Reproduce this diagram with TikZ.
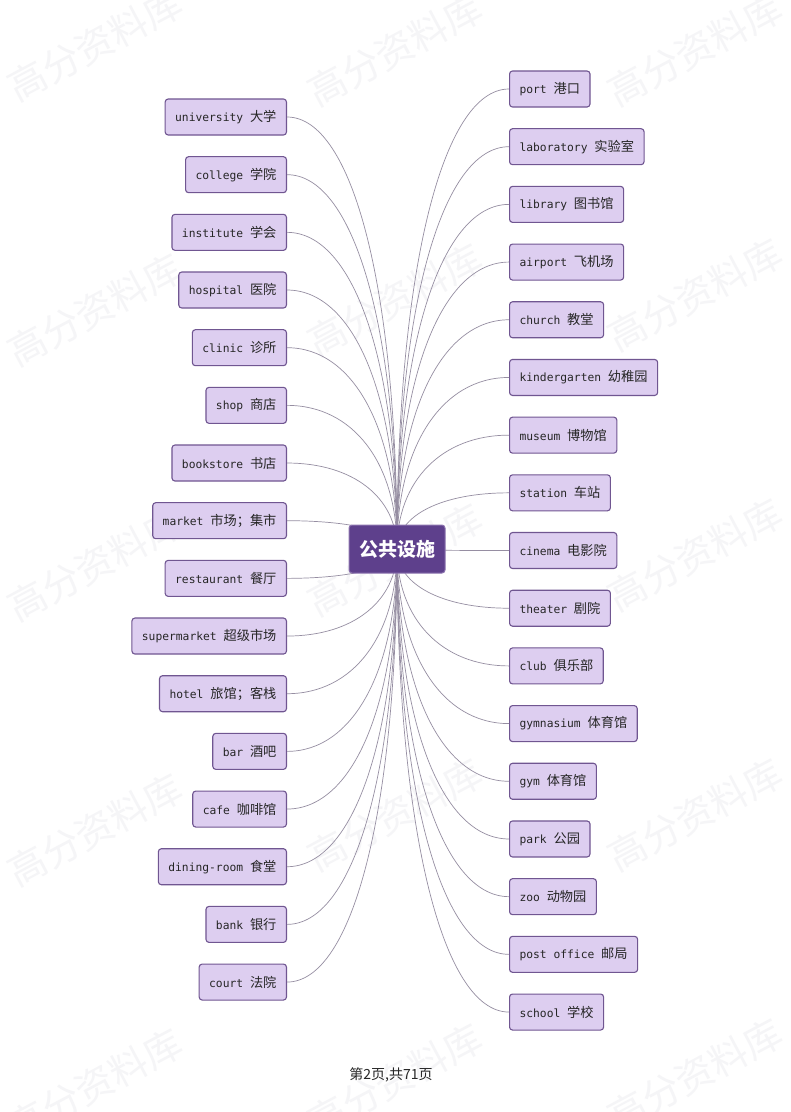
\documentclass[tikz,border=0pt]{standalone}
\usepackage{fontspec}
\setmonofont{DejaVu Sans Mono}
\newfontfamily\cjk{Noto Sans CJK SC}
\newfontfamily\cjkleaf[Scale=1.17]{Noto Sans CJK SC}
\usetikzlibrary{calc}
\definecolor{boxfill}{RGB}{221,206,240}
\definecolor{boxdraw}{RGB}{112,86,145}
\definecolor{hubfill}{RGB}{94,64,140}
\definecolor{hubdraw}{RGB}{140,115,175}
\definecolor{conncol}{RGB}{150,142,162}
\definecolor{wmcol}{RGB}{245,245,247}
\tikzset{
  leaf/.style={draw=boxdraw, fill=boxfill, line width=1.1bp, rounded corners=3bp,
    minimum height=36bp, inner xsep=10bp, inner ysep=0pt,
    font=\fontsize{11.3bp}{13bp}\selectfont\ttfamily, text=black!85},
  hub/.style={draw=hubdraw, fill=hubfill, line width=1bp, rounded corners=3bp,
    minimum width=96bp, minimum height=48bp, inner sep=0pt, text=white,
    font=\fontsize{19bp}{22bp}\selectfont\cjk\bfseries},
  conn/.style={draw=conncol, line width=0.7bp},
  wmark/.style={text=wmcol, rotate=28, inner sep=0pt,
    font=\fontsize{38bp}{40bp}\selectfont\cjk},
  foot/.style={inner sep=0pt, text=black!85, font=\fontsize{14bp}{16bp}\selectfont\cjk}
}
\begin{document}
\begin{tikzpicture}[x=1bp, y=-1bp]
\useasboundingbox (0,0) rectangle (791,1112);
\fill[white] (0,0) rectangle (791,1112);
% watermarks
\foreach \wx/\wy [count=\w] in {95/45, 395/50, 695/50, 95/310, 395/300, 695/295,
  95/565, 395/560, 695/555, 95/830, 395/815, 695/815, 95/1085, 395/1080, 695/1075}
  \node[wmark] (wm\w) at (\wx,\wy) {高分资料库};
\coordinate (cc) at (397,549);
% left leaves
\foreach \en/\cn [count=\i from 0] in {university/大学, college/学院, institute/学会,
  hospital/医院, clinic/诊所, shop/商店, bookstore/书店, market/市场；集市,
  restaurant/餐厅, supermarket/超级市场, hotel/旅馆；客栈, bar/酒吧, cafe/咖啡馆,
  dining-room/食堂, bank/银行, court/法院}
  \node[leaf, anchor=east] (L\i) at (287, 117+\i*57.67) {\en\ {\cjkleaf \cn}};
% right leaves
\foreach \en/\cn [count=\i from 0] in {port/港口, laboratory/实验室, library/图书馆,
  airport/飞机场, church/教堂, kindergarten/幼稚园, museum/博物馆, station/车站,
  cinema/电影院, theater/剧院, club/俱乐部, gymnasium/体育馆, gym/体育馆,
  park/公园, zoo/动物园, post office/邮局, school/学校}
  \node[leaf, anchor=west] (R\i) at (509, 89+\i*57.69) {\en\ {\cjkleaf \cn}};
% connectors
\foreach \i in {0,...,15}
  \draw[conn] (cc) .. controls ($(cc)!0.6!(cc|-L\i.east)$) and ($(L\i.east)!0.6!(L\i.east-|cc)$) .. (L\i.east);
\foreach \i in {0,...,16}
  \draw[conn] (cc) .. controls ($(cc)!0.6!(cc|-R\i.west)$) and ($(R\i.west)!0.6!(R\i.west-|cc)$) .. (R\i.west);
% hub
\node[hub] (c) at (cc) {公共设施};
% footer
\node[foot] (ft) at (391,1075) {第2页,共71页};
\end{tikzpicture}
\end{document}
